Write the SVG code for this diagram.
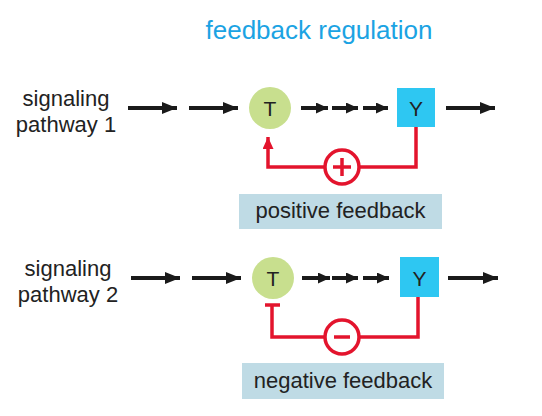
<svg xmlns="http://www.w3.org/2000/svg" width="542" height="416" viewBox="0 0 542 416">
<defs>
<marker id="ah" viewBox="0 0 15 12" refX="15" refY="6" markerWidth="15" markerHeight="12" markerUnits="userSpaceOnUse" orient="auto"><path d="M0,0 L15,6 L0,12 Z" fill="#1a1a1a"/></marker>
<marker id="ahs" viewBox="0 0 12 11" refX="12" refY="5.5" markerWidth="12" markerHeight="11" markerUnits="userSpaceOnUse" orient="auto"><path d="M0,0 L12,5.5 L0,11 Z" fill="#1a1a1a"/></marker>
<marker id="ahr" viewBox="0 0 12 11" refX="12" refY="5.5" markerWidth="12" markerHeight="11" markerUnits="userSpaceOnUse" orient="auto"><path d="M0,0 L12,5.5 L0,11 Z" fill="#e3142d"/></marker>
</defs>
<style>
.lbl{font-family:"Liberation Sans",Arial,sans-serif;font-size:22px;fill:#222;}
.ttl{font-family:"Liberation Sans",Arial,sans-serif;font-size:26px;fill:#1ba3e3;}
.blk{stroke:#1a1a1a;stroke-width:4;fill:none;}
.red{stroke:#e3142d;stroke-width:3.5;fill:none;}
.tc{fill:#c8df8e;}
.yb{fill:#2ec7f2;}
.box{fill:#bfdbe5;}
.nt{font-family:"Liberation Sans",Arial,sans-serif;font-size:21px;fill:#222;text-anchor:middle;}
</style>
<rect width="542" height="416" fill="#fff"/>
<text class="ttl" x="319" y="39" text-anchor="middle">feedback regulation</text>

<g id="label1"><text class="lbl" x="66" y="106" text-anchor="middle">signaling</text><text class="lbl" x="66" y="132" text-anchor="middle">pathway 1</text></g>
<g id="label2"><text class="lbl" x="68" y="276" text-anchor="middle">signaling</text><text class="lbl" x="68" y="302" text-anchor="middle">pathway 2</text></g>

<g id="T1"><circle class="tc" cx="270" cy="108" r="21"/><text class="nt" x="270" y="115.5">T</text></g>
<g id="Y1"><rect class="yb" x="397" y="88" width="38" height="39"/><text class="nt" x="416" y="115.5">Y</text></g>
<g id="T2"><circle class="tc" cx="273" cy="278" r="21"/><text class="nt" x="273" y="285.5">T</text></g>
<g id="Y2"><rect class="yb" x="400" y="257" width="39" height="40"/><text class="nt" x="419.5" y="285.5">Y</text></g>

<g id="pos"><rect class="box" x="239" y="194" width="203" height="35"/><text class="lbl" x="340.5" y="218" text-anchor="middle">positive feedback</text></g>
<g id="neg"><rect class="box" x="242" y="363" width="202" height="36"/><text class="lbl" x="343" y="388" text-anchor="middle">negative feedback</text></g>

<g id="connectors">
<line class="blk" x1="128" y1="108" x2="177" y2="108" marker-end="url(#ah)"/>
<line class="blk" x1="189" y1="108" x2="238" y2="108" marker-end="url(#ah)"/>
<line class="blk" x1="301" y1="108" x2="328" y2="108" marker-end="url(#ahs)"/>
<line class="blk" x1="332" y1="108" x2="358" y2="108" marker-end="url(#ahs)"/>
<line class="blk" x1="363" y1="108" x2="388" y2="108" marker-end="url(#ahs)"/>
<line class="blk" x1="446" y1="108" x2="495" y2="108" marker-end="url(#ah)"/>

<line class="blk" x1="131" y1="278" x2="180" y2="278" marker-end="url(#ah)"/>
<line class="blk" x1="192" y1="278" x2="241" y2="278" marker-end="url(#ah)"/>
<line class="blk" x1="302" y1="278" x2="330" y2="278" marker-end="url(#ahs)"/>
<line class="blk" x1="332" y1="278" x2="358" y2="278" marker-end="url(#ahs)"/>
<line class="blk" x1="363" y1="278" x2="389" y2="278" marker-end="url(#ahs)"/>
<line class="blk" x1="448" y1="278" x2="498" y2="278" marker-end="url(#ah)"/>

<path class="red" d="M416,127 V167 H268 V137" marker-end="url(#ahr)"/>
<circle cx="342" cy="167" r="17" fill="#fff" stroke="#e3142d" stroke-width="3.5"/>
<path class="red" stroke-width="4" d="M333,167 H351 M342,158 V176"/>

<path class="red" d="M418,297 V337 H272 V305"/>
<path class="red" d="M265,305 H280"/>
<circle cx="342" cy="337" r="17" fill="#fff" stroke="#e3142d" stroke-width="3.5"/>
<path class="red" d="M334,337 H350"/>
</g>
</svg>
